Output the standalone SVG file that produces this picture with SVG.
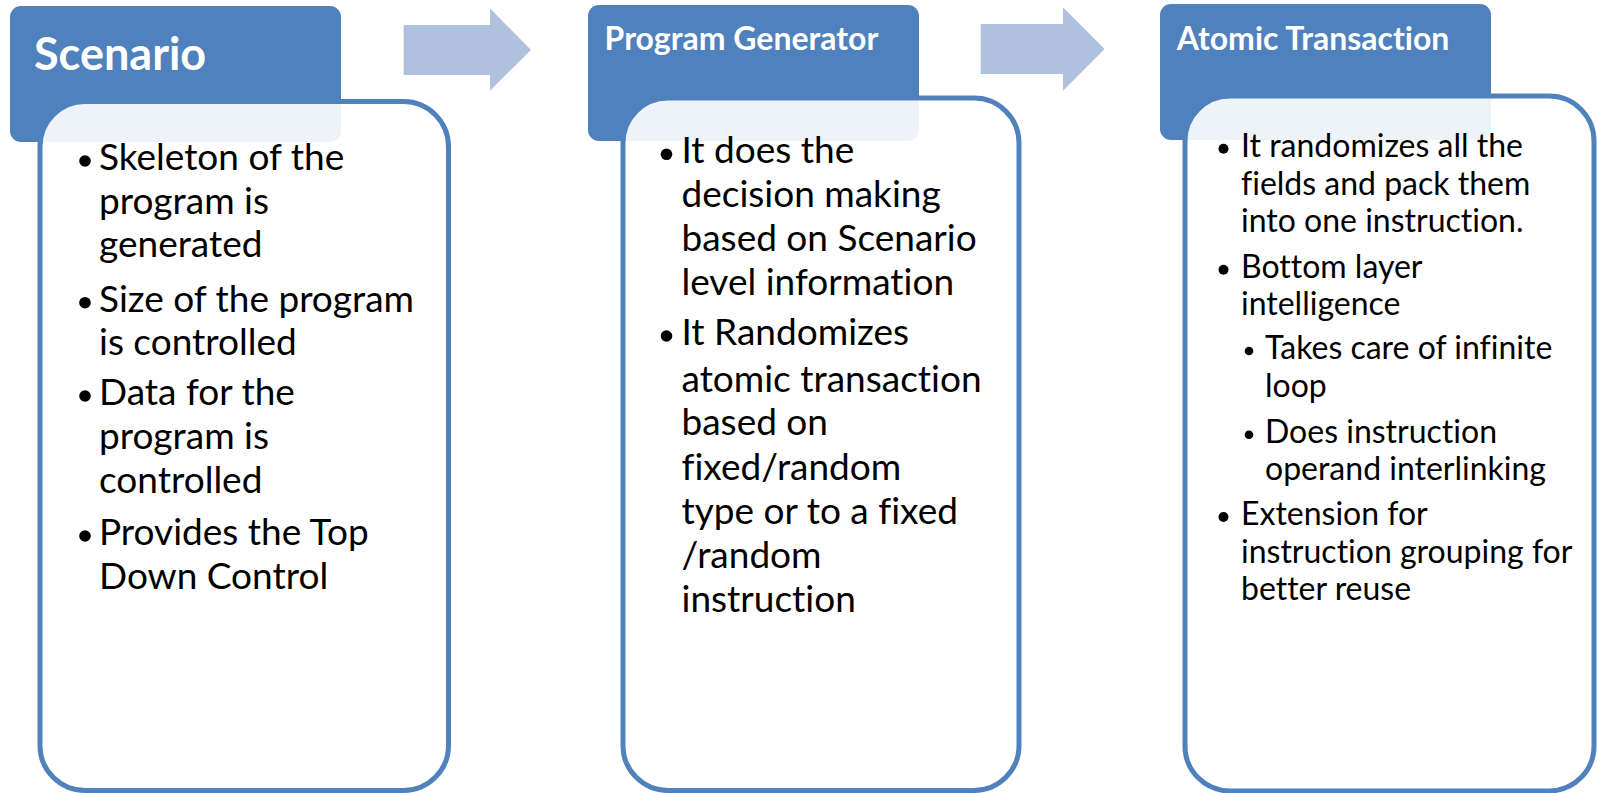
<svg xmlns="http://www.w3.org/2000/svg" width="1597" height="793" viewBox="0 0 1597 793">
<style>
.hdr{fill:#4F81BD}
.body{fill:#FFFFFF;fill-opacity:0.9;stroke:#4F81BD;stroke-width:5}
.arrow{fill:#B0C1DE}
text{font-variant-ligatures:none}
.ttl{font-family:Lato,"Open Sans",sans-serif;font-weight:bold;fill:#FFFFFF}
.t1{font-family:Lato,"Open Sans",sans-serif;font-size:37px;fill:#000000}
.t3{font-family:Lato,"Open Sans",sans-serif;font-size:32px;fill:#000000}
.bl{fill:#000000}
</style>
<rect width="1597" height="793" fill="#FFFFFF"/>
<g id="connectors">
<path class="arrow" d="M403.6,25 H490 V8.3 L531,50 L490,90.7 V75 H403.6 Z"/>
<path class="arrow" d="M980.7,24 H1063 V7.3 L1104.6,49 L1063,90.7 V74 H980.7 Z"/>
</g>
<g id="node-scenario">
<rect class="hdr" x="10" y="6" width="331" height="136" rx="11"/>
<text class="ttl" x="34" y="70" font-size="45">Scenario</text>
<rect class="body" x="40" y="101.5" width="408.5" height="689" rx="45"/>
<circle class="bl" cx="85" cy="161" r="5.8"/>
<circle class="bl" cx="85" cy="302.7" r="5.8"/>
<circle class="bl" cx="85" cy="396" r="5.8"/>
<circle class="bl" cx="85" cy="536" r="5.8"/>
<text class="t1" x="99">
<tspan x="99" y="170">Skeleton of the</tspan>
<tspan x="99" y="213.5">program is</tspan>
<tspan x="99" y="257">generated</tspan>
<tspan x="99" y="311.7">Size of the program</tspan>
<tspan x="99" y="355">is controlled</tspan>
<tspan x="99" y="405">Data for the</tspan>
<tspan x="99" y="449">program is</tspan>
<tspan x="99" y="493">controlled</tspan>
<tspan x="99" y="545">Provides the Top</tspan>
<tspan x="99" y="588.5">Down Control</tspan>
</text>
</g>
<g id="node-program-generator">
<rect class="hdr" x="588" y="5" width="331" height="136" rx="11"/>
<text class="ttl" x="604.6" y="50" font-size="32">Program Generator</text>
<rect class="body" x="623" y="98" width="396" height="692.5" rx="45"/>
<circle class="bl" cx="666.5" cy="154.3" r="5.8"/>
<circle class="bl" cx="666.5" cy="336" r="5.8"/>
<text class="t1" x="681.5">
<tspan x="681.5" y="163.3">It does the</tspan>
<tspan x="681.5" y="207.3">decision making</tspan>
<tspan x="681.5" y="251.3">based on Scenario</tspan>
<tspan x="681.5" y="295.3">level information</tspan>
<tspan x="681.5" y="345">It Randomizes</tspan>
<tspan x="681.5" y="391.5">atomic transaction</tspan>
<tspan x="681.5" y="435">based on</tspan>
<tspan x="681.5" y="480">fixed/random</tspan>
<tspan x="681.5" y="524">type or to a fixed</tspan>
<tspan x="681.5" y="568">/random</tspan>
<tspan x="681.5" y="611.7">instruction</tspan>
</text>
</g>
<g id="node-atomic-transaction">
<rect class="hdr" x="1160" y="4" width="331" height="136" rx="11"/>
<text class="ttl" x="1176.7" y="50" font-size="32">Atomic Transaction</text>
<rect class="body" x="1185" y="96" width="409" height="695" rx="45"/>
<circle class="bl" cx="1223.5" cy="148.7" r="5"/>
<circle class="bl" cx="1223.5" cy="269.7" r="5"/>
<circle class="bl" cx="1249" cy="351" r="4.3"/>
<circle class="bl" cx="1249" cy="434.7" r="4.3"/>
<circle class="bl" cx="1223.5" cy="517" r="5"/>
<text class="t3" x="1241">
<tspan x="1241" y="156.7">It randomizes all the</tspan>
<tspan x="1241" y="194.5">fields and pack them</tspan>
<tspan x="1241" y="232.3">into one instruction.</tspan>
<tspan x="1241" y="277.7">Bottom layer</tspan>
<tspan x="1241" y="315">intelligence</tspan>
<tspan x="1265" y="359">Takes care of infinite</tspan>
<tspan x="1265" y="396.7">loop</tspan>
<tspan x="1265" y="442.7">Does instruction</tspan>
<tspan x="1265" y="480">operand interlinking</tspan>
<tspan x="1241" y="525">Extension for</tspan>
<tspan x="1241" y="563.3">instruction grouping for</tspan>
<tspan x="1241" y="600">better reuse</tspan>
</text>
</g>
</svg>
